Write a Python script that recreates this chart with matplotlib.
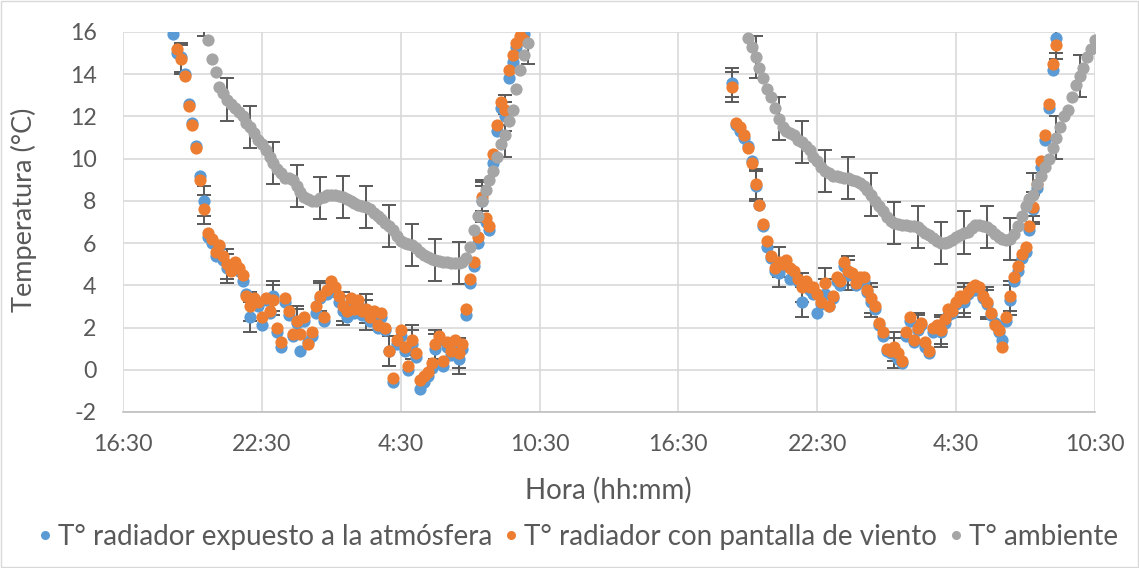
import numpy as np
import matplotlib
matplotlib.use("Agg")
import matplotlib.pyplot as plt
from matplotlib.lines import Line2D
from matplotlib.patches import Rectangle

nan = np.nan

# hours measured from 16:30 of the first day, one reading every 10 minutes
start1 = 2 + 10 / 60   # 18:40
start2 = 26 + 20 / 60  # 18:50 next day

# night 1
blue1 = [15.9, 15.0, 14.8, 14.0, 12.6, 11.7, 10.6, 9.2, 8.0, 6.3,
         6.0, 5.4, 5.8, 5.2, 4.8, 4.9, 5.0, 4.7, 4.2, 3.6,
         2.5, 3.3, 3.0, 2.1, 3.3, 2.7, 3.5, 1.8, 1.1, 3.2,
         2.6, 1.6, 2.2, 0.9, 2.3, 1.3, 1.6, 2.7, 3.4, 2.3,
         3.6, 4.0, 3.7, 3.2, 2.8, 2.5, 3.2, 2.7, 3.1, 2.6,
         2.6, 2.3, 2.6, 2.0, 2.5, 1.9, 0.9, -0.6, 1.2, 1.6,
         0.9, 0.0, 1.2, 0.6, -0.9, -0.6, -0.3, 0.1, 1.0, 1.4,
         0.2, 1.1, 0.7, 1.2, 0.5, 1.0, 2.6, 4.1, 4.9, 6.0,
         8.0, 7.0, 6.6, 9.8, 11.3, 12.4, 12.0, 13.8, 14.6, 15.3,
         15.6, 15.9, nan]
orange1 = [nan, 15.2, 14.7, 13.9, 12.5, 11.6, 10.5, 9.0, 7.6, 6.5,
           6.2, 5.6, 5.9, 5.4, 5.0, 4.7, 5.1, 4.8, 4.5, 3.5,
           3.0, 3.4, 3.2, 2.5, 3.4, 2.8, 3.3, 2.0, 1.3, 3.4,
           2.8, 1.7, 2.3, 1.7, 2.5, 1.2, 1.8, 3.0, 3.5, 2.5,
           3.8, 4.2, 3.9, 3.5, 3.0, 2.8, 3.4, 2.9, 3.3, 2.8,
           2.9, 2.5, 2.8, 2.1, 2.7, 2.0, 0.9, -0.4, 1.4, 1.9,
           1.1, 0.2, 1.4, 0.8, -0.5, -0.3, -0.1, 0.3, 1.2, 1.6,
           0.4, 1.3, 0.9, 1.4, 0.8, 1.2, 2.9, 4.3, 5.1, 6.3,
           8.2, 7.2, 6.8, 10.2, 11.6, 12.7, 12.3, 14.2, 14.9, 15.5,
           15.8, 15.6, nan]
gray1 = [nan, nan, nan, nan, nan, nan, nan, nan, 16.8, 15.6,
         14.7, 14.1, 13.4, 13.1, 12.8, 12.6, 12.4, 12.2, 12.0, 11.7,
         11.5, 11.2, 10.9, 10.7, 10.4, 10.1, 9.8, 9.5, 9.3, 9.1,
         9.1, 9.0, 8.7, 8.4, 8.2, 8.1, 8.0, 8.0, 8.15, 8.2,
         8.3, 8.3, 8.3, 8.25, 8.2, 8.1, 8.0, 7.9, 7.8, 7.75,
         7.7, 7.6, 7.45, 7.3, 7.15, 6.95, 6.8, 6.6, 6.35, 6.1,
         6.0, 5.95, 5.9, 5.75, 5.6, 5.45, 5.35, 5.25, 5.2, 5.15,
         5.1, 5.1, 5.05, 5.05, 5.05, 5.1, 5.3, 5.8, 6.6, 7.3,
         8.0, 8.5, 9.0, 9.4, 10.1, 10.7, 11.1, 11.8, 12.3, 13.3,
         14.2, 14.9, 15.5]

# night 2
blue2 = [13.6, 11.6, 11.3, 11.0, 10.6, 9.9, 8.7, 7.8, 6.8, 5.8,
         5.3, 4.7, 4.6, 4.9, 5.0, 4.3, 4.5, 4.2, 3.2, 3.9,
         3.8, 3.6, 2.7, 3.1, 3.6, 3.0, 3.4, 4.2, 4.0, 4.9,
         4.5, 4.5, 4.0, 4.2, 4.2, 3.7, 3.2, 2.9, 2.1, 1.6,
         0.9, 0.8, 0.8, 0.5, 0.3, 1.6, 2.3, 1.3, 1.9, 2.1,
         1.1, 0.8, 1.8, 1.9, 1.8, 2.2, 2.6, 2.7, 3.1, 3.3,
         3.2, 3.6, 3.8, 3.8, 3.8, 3.4, 3.1, 2.6, 2.2, 1.8,
         1.4, 2.3, 3.3, 4.2, 4.7, 5.3, 5.6, 6.6, 7.6, 8.6,
         9.6, 10.9, 12.4, 14.2, 15.7, nan, nan, nan, nan, nan,
         nan, nan, nan, nan, nan]
orange2 = [13.4, 11.7, 11.5, 11.1, 10.5, 9.8, 8.8, 7.8, 6.9, 6.1,
           5.4, 4.8, 5.1, 5.0, 5.2, 4.8, 4.7, 4.3, 3.9, 4.2,
           3.9, 3.9, 3.6, 3.2, 4.1, 3.0, 3.5, 4.4, 4.2, 5.1,
           4.7, 4.6, 4.1, 4.4, 4.4, 3.8, 3.4, 3.0, 2.2, 1.8,
           1.0, 0.9, 1.1, 0.8, 0.4, 1.8, 2.5, 1.4, 2.0, 2.2,
           1.3, 0.9, 2.0, 2.1, 1.9, 2.4, 2.9, 2.8, 3.2, 3.5,
           3.4, 3.7, 3.9, 4.0, 3.9, 3.5, 3.2, 2.7, 2.1, 1.9,
           1.1, 2.5, 3.5, 4.4, 4.9, 5.5, 5.8, 6.8, 7.7, 8.8,
           9.9, 11.1, 12.6, 14.5, 15.4, nan, nan, nan, nan, nan,
           nan, nan, nan, nan, nan]
gray2 = [nan, nan, nan, nan, 15.7, 15.3, 14.8, 14.3, 13.8, 13.3,
         12.9, 12.4, 11.9, 11.5, 11.3, 11.2, 11.1, 10.9, 10.8, 10.6,
         10.4, 10.1, 9.9, 9.6, 9.4, 9.3, 9.2, 9.2, 9.15, 9.1,
         9.1, 9.0, 8.95, 8.85, 8.7, 8.5, 8.3, 8.0, 7.75, 7.5,
         7.25, 7.05, 6.95, 6.9, 6.85, 6.85, 6.8, 6.8, 6.75, 6.6,
         6.5, 6.4, 6.25, 6.1, 6.0, 6.0, 6.05, 6.15, 6.3, 6.4,
         6.5, 6.55, 6.7, 6.85, 6.85, 6.8, 6.75, 6.6, 6.45, 6.3,
         6.2, 6.15, 6.2, 6.45, 6.8, 7.3, 7.75, 8.1, 8.3, 8.8,
         9.2, 9.6, 10.0, 10.5, 11.0, 11.5, 12.0, 12.3, 12.9, 13.5,
         13.9, 14.3, 14.8, 15.2, 15.6]

err_rad = 0.7
err_amb = 1.0

tick_labels = ["16:30", "22:30", "4:30", "10:30", "16:30", "22:30", "4:30", "10:30"]
names = ["T° radiador expuesto a la atmósfera", "T° radiador con pantalla de viento", "T° ambiente"]
colors = ["#5B9BD5", "#ED7D31", "#A5A5A5"]

t1 = start1 + np.arange(len(blue1)) / 6
t2 = start2 + np.arange(len(blue2)) / 6

plt.rcParams['font.family'] = ['Lato', 'DejaVu Sans']
plt.rcParams['axes.unicode_minus'] = False
txt = "#595959"

fig = plt.figure(figsize=(11.39, 5.68), dpi=100)
ax = fig.add_axes([123 / 1139, 1 - 412 / 568, (1095 - 123) / 1139, 380 / 568])

nights = [(t1, [blue1, orange1, gray1], 2), (t2, [blue2, orange2, gray2], 0)]
for t, series, off in nights:
    for k, vals in enumerate(series):
        v = np.array(vals, dtype=float)
        err = err_amb if k == 2 else err_rad
        ax.errorbar(t[off::6], v[off::6], yerr=err, fmt='none', ecolor='#595959',
                    elinewidth=1.4, capsize=5, capthick=1.4, zorder=2)
        ax.plot(t, v, 'o', color=colors[k], ms=8.8, mec='none', zorder=3 + k)

ax.set_xlim(0, 42)
ax.set_ylim(-2, 16)
ax.set_xticks(range(0, 43, 6))
ax.set_xticklabels(tick_labels)
ax.set_yticks(range(-2, 17, 2))
ax.grid(color='#d9d9d9', lw=1.2)
ax.set_axisbelow(True)
for s in ['left', 'right', 'top']:
    ax.spines[s].set_visible(False)
ax.spines['bottom'].set_color('#bfbfbf')
ax.spines['bottom'].set_linewidth(1.2)
ax.tick_params(length=0, labelsize=16.7, colors=txt)
ax.tick_params(axis='y', pad=19)
ax.tick_params(axis='x', pad=16)

fig.text(608 / 1139, 1 - 490 / 568, "Hora (hh:mm)", ha='center', va='center', fontsize=20, color=txt)
fig.text(24 / 1139, 1 - 210 / 568, "Temperatura (°C)", ha='center', va='center', rotation=90,
         fontsize=19.5, color=txt)

handles = [Line2D([], [], marker='o', ls='none', color=c, ms=6.5, mec='none') for c in colors]
fig.legend(handles, names, loc='center', bbox_to_anchor=(578 / 1139, 1 - 537 / 568), ncol=3,
           frameon=False, fontsize=20, labelcolor=txt, handletextpad=0.2,
           columnspacing=0.45, handlelength=0.5, borderpad=0.2)

fig.add_artist(Rectangle((0.001, 0.001), 0.998, 0.997, transform=fig.transFigure,
                         fill=False, edgecolor='#d9d9d9', lw=1))

fig.savefig("out.png", dpi=100, facecolor='white')
